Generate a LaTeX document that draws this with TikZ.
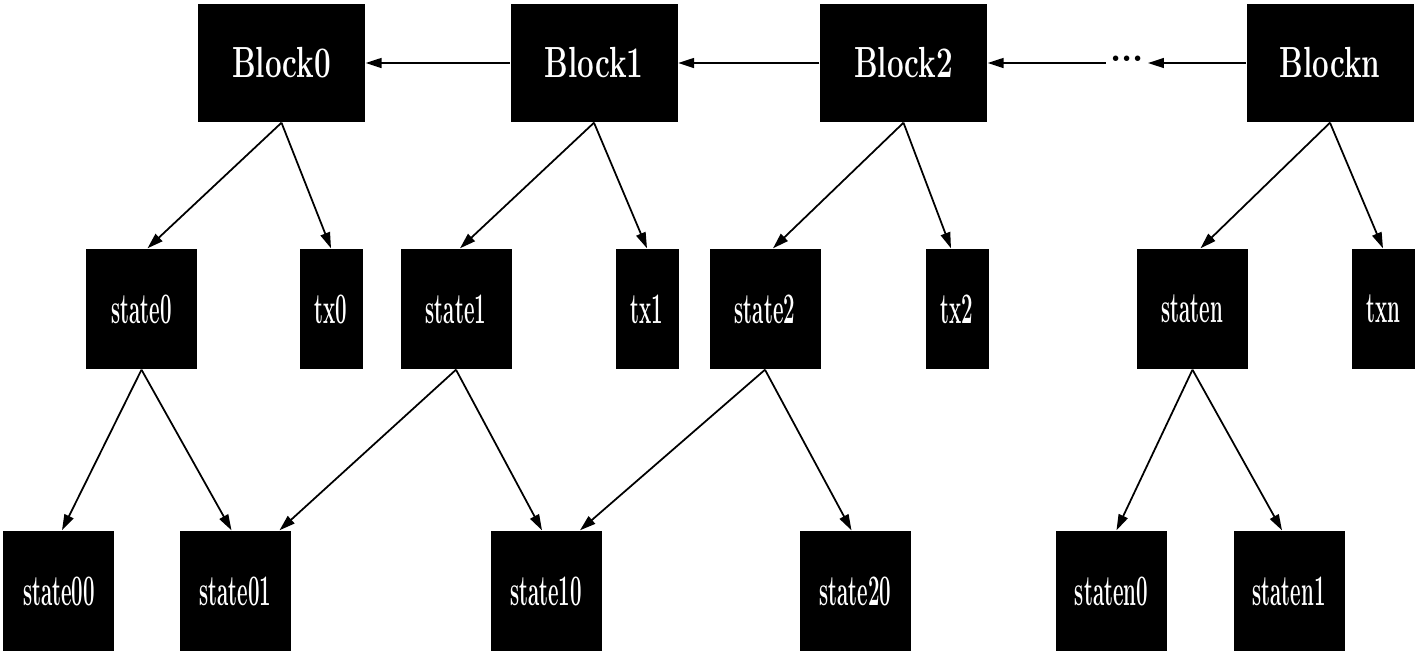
\documentclass[tikz,border=0pt]{standalone}
\usepackage{graphicx}
\usetikzlibrary{arrows.meta, positioning, calc}

\newcommand{\toplbl}[1]{\scalebox{0.68}[1]{#1}}
\newcommand{\sublbl}[1]{\scalebox{0.47}[1]{#1}}

\begin{document}
\begin{tikzpicture}[>={Triangle[length=4.5pt, width=2.8pt]},
    box/.style={fill=black, text=white, inner sep=0pt, font=\fontsize{12.4}{14}\selectfont\bfseries},
    blockbox/.style={box, minimum width=1.67cm, minimum height=1.18cm},
    statebox/.style={box, minimum width=1.11cm, minimum height=1.2cm},
    txbox/.style={box, minimum width=0.63cm, minimum height=1.2cm},
    link/.style={->, line width=0.5pt}]
    \useasboundingbox (0,0) rectangle (14.16,6.51);

    % chain of blocks
    \node[blockbox] (B0) at (2.815, 5.88) {\toplbl{Block0}};
    \node[blockbox] (B1) at (5.94, 5.88) {\toplbl{Block1}};
    \node[blockbox] (B2) at (9.035, 5.88) {\toplbl{Block2}};
    \node[blockbox] (Bn) at (13.30, 5.88) {\toplbl{Blockn}};
    \node[inner sep=1pt, font=\bfseries] (dots) at (11.27, 5.92) {...};

    % states and transactions
    \node[statebox] (S0) at (1.415, 3.42) {\sublbl{state0}};
    \node[txbox]    (T0) at (3.31, 3.42) {\sublbl{tx0}};
    \node[statebox] (S1) at (4.56, 3.42) {\sublbl{state1}};
    \node[txbox]    (T1) at (6.47, 3.42) {\sublbl{tx1}};
    \node[statebox] (S2) at (7.65, 3.42) {\sublbl{state2}};
    \node[txbox]    (T2) at (9.57, 3.42) {\sublbl{tx2}};
    \node[statebox] (Sn) at (11.925, 3.42) {\sublbl{staten}};
    \node[txbox]    (Tn) at (13.83, 3.42) {\sublbl{txn}};

    % sub states
    \node[statebox] (S00) at (0.59, 0.60) {\sublbl{state00}};
    \node[statebox] (S01) at (2.355, 0.60) {\sublbl{state01}};
    \node[statebox] (S10) at (5.46, 0.60) {\sublbl{state10}};
    \node[statebox] (S20) at (8.555, 0.60) {\sublbl{state20}};
    \node[statebox] (Sn0) at (11.115, 0.60) {\sublbl{staten0}};
    \node[statebox] (Sn1) at (12.89, 0.60) {\sublbl{staten1}};

    \draw[link] (B1) -- (B0);
    \draw[link] (B2) -- (B1);
    \draw[link] (dots.west |- B2) -- (B2);
    \draw[link] (Bn) -- (dots.east |- Bn);

    \draw[link] (B0.south) -- ([xshift=0.6mm]S0.north);
    \draw[link] (B0.south) -- (T0.north);
    \draw[link] (B1.south) -- ([xshift=0.4mm]S1.north);
    \draw[link] (B1.south) -- (T1.north);
    \draw[link] (B2.south) -- ([xshift=0.8mm]S2.north);
    \draw[link] (B2.south) -- ([xshift=-0.6mm]T2.north);
    \draw[link] (Bn.south) -- ([xshift=0.8mm]Sn.north);
    \draw[link] (Bn.south) -- (Tn.north);

    \draw[link] (S0.south) -- ([xshift=0.3mm]S00.north);
    \draw[link] (S0.south) -- ([xshift=-0.4mm]S01.north);
    \draw[link] (S1.south) -- ([xshift=4.4mm]S01.north);
    \draw[link] (S1.south) -- ([xshift=-0.4mm]S10.north);
    \draw[link] (S2.south) -- ([xshift=3.4mm]S10.north);
    \draw[link] (S2.south) -- ([xshift=-0.4mm]S20.north);
    \draw[link] (Sn.south) -- ([xshift=0.5mm]Sn0.north);
    \draw[link] (Sn.south) -- ([xshift=-0.7mm]Sn1.north);
\end{tikzpicture}
\end{document}
